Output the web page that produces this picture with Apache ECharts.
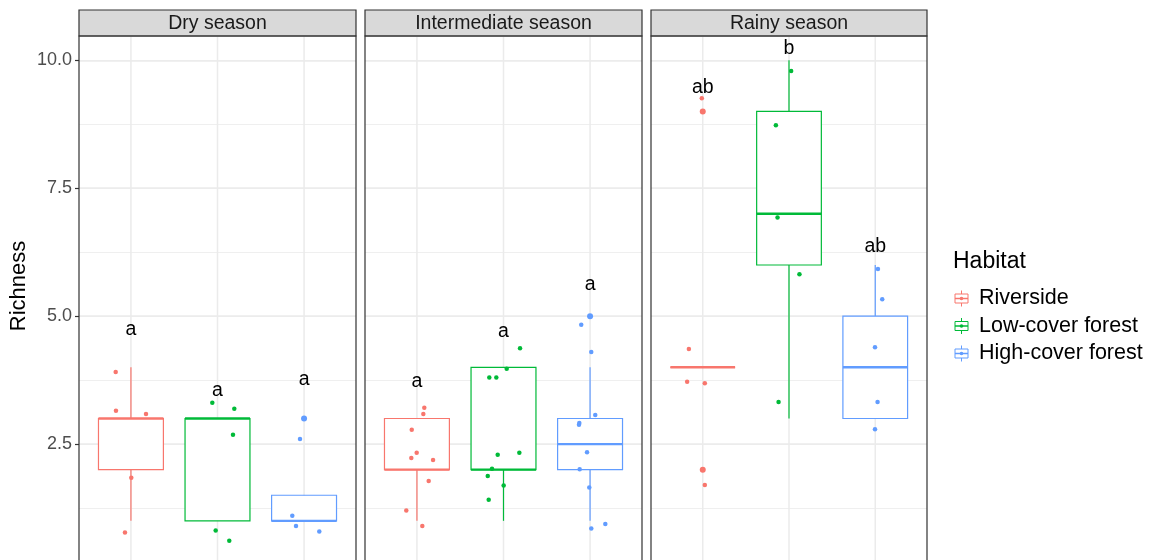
<!DOCTYPE html>
<html><head><meta charset="utf-8">
<script src="https://cdn.jsdelivr.net/npm/echarts@6/dist/echarts.min.js"></script>
<style>html,body{margin:0;padding:0;background:#fff}#c{width:1151px;height:560px}</style>
</head><body><div id="c"></div>
<script>
// ---------- DATA ----------
const seasons = ['Dry season', 'Intermediate season', 'Rainy season'];
const habitats = ['Riverside', 'Low-cover forest', 'High-cover forest'];
const yTicks = [2.5, 5, 7.5, 10];

// box statistics per habitat: [lower whisker, Q1, median, Q3, upper whisker]
const dryBoxes   = [[1, 2, 3, 3, 4], [1, 1, 3, 3, 3], [1, 1, 1, 1.5, 1]];
const interBoxes = [[1, 2, 2, 3, 3], [1, 2, 2, 4, 4], [1, 2, 2.5, 3, 4]];
const rainyBoxes = [[4, 4, 4, 4, 4], [3, 6, 7, 9, 10], [3, 3, 4, 5, 6]];

// boxplot outliers per habitat
const dryOutliers   = [[], [], [3]];
const interOutliers = [[], [], [5]];
const rainyOutliers = [[9, 2], [], []];

// jittered observations per habitat: [horizontal jitter, richness]
const dryPoints = [
  [[-0.176, 3.91], [-0.173, 3.15], [0.174, 3.09], [0.004, 1.84], [-0.069, 0.77]],
  [[-0.060, 3.31], [0.194, 3.19], [0.179, 2.68], [-0.021, 0.81], [0.136, 0.61]],
  [[-0.047, 2.60], [-0.136, 1.10], [-0.093, 0.90], [0.176, 0.79]]
];
const interPoints = [
  [[0.085, 3.21], [0.074, 3.09], [-0.060, 2.78], [-0.003, 2.33], [-0.065, 2.23], [0.186, 2.19], [0.136, 1.78], [-0.123, 1.20], [0.062, 0.90]],
  [[0.191, 4.375], [0.037, 3.97], [-0.164, 3.80], [-0.083, 3.80], [-0.067, 2.29], [0.183, 2.33], [-0.133, 2.02], [-0.182, 1.875], [0.002, 1.69], [-0.171, 1.41]],
  [[-0.102, 4.83], [0.014, 4.30], [0.060, 3.07], [-0.124, 2.91], [-0.128, 2.88], [-0.035, 2.34], [-0.120, 2.01], [-0.009, 1.65], [0.014, 0.85], [0.176, 0.94]]
];
const rainyPoints = [
  [[-0.011, 9.26], [-0.161, 4.36], [-0.181, 3.72], [0.024, 3.69], [0.024, 1.70]],
  [[0.025, 9.79], [-0.152, 8.73], [-0.133, 6.93], [0.121, 5.82], [-0.121, 3.32]],
  [[0.031, 5.92], [0.081, 5.33], [-0.003, 4.39], [0.027, 3.32], [-0.003, 2.79]]
];

// significance letters and their heights
const dryLetters = ['a', 'a', 'a'];
const dryLetterY = [4.73, 3.54, 3.75];
const interLetters = ['a', 'a', 'a'];
const interLetterY = [3.73, 4.69, 5.61];
const rainyLetters = ['ab', 'b', 'ab'];
const rainyLetterY = [9.47, 10.23, 6.35];

// ---------- STYLE / LAYOUT ----------
const FONT = '"Liberation Sans", Arial, Helvetica, sans-serif';
const COLORS = ['#F8766D', '#00BA38', '#619CFF'];
const panels = [{left: 79, width: 277}, {left: 365, width: 277}, {left: 651, width: 276}];
const TOP = 36, HEIGHT = 536, YMIN = 0, YMAX = 10.475;
const BOX_HALF = 0.375;

const seasonData = [
  {boxes: dryBoxes, outliers: dryOutliers, points: dryPoints, letters: dryLetters, letterY: dryLetterY},
  {boxes: interBoxes, outliers: interOutliers, points: interPoints, letters: interLetters, letterY: interLetterY},
  {boxes: rainyBoxes, outliers: rainyOutliers, points: rainyPoints, letters: rainyLetters, letterY: rainyLetterY}
];

const grid = panels.map(p => ({left: p.left, top: TOP, width: p.width, height: HEIGHT, show: false, containLabel: false, outerBoundsMode: 'none'}));
const xAxis = panels.map((p, i) => ({type: 'value', gridIndex: i, min: 0.4, max: 3.6, show: false}));
const yAxis = [];
panels.forEach((p, i) => {
  yAxis.push({
    type: 'value', gridIndex: i, min: YMIN, max: YMAX, interval: 2.5,
    axisLine: {show: false},
    axisTick: i === 0 ? {show: true, customValues: yTicks, length: 4, lineStyle: {color: '#333333', width: 1.2}} : {show: false},
    axisLabel: i === 0 ? {show: true, customValues: yTicks, formatter: v => Number(v).toFixed(1), color: '#4D4D4D', fontSize: 18, fontFamily: FONT, margin: 7} : {show: false},
    splitLine: {show: true, lineStyle: {color: '#EBEBEB', width: 1.5}}
  });
  yAxis.push({
    type: 'value', gridIndex: i, min: YMIN, max: YMAX, interval: 1.25, position: 'left',
    axisLine: {show: false}, axisTick: {show: false}, axisLabel: {show: false},
    splitLine: {show: true, lineStyle: {color: '#EBEBEB', width: 0.8}}
  });
});

const series = [];
seasonData.forEach((sd, i) => {
  const yi = 2 * i;
  // vertical grid lines at category centres
  series.push({
    type: 'custom', xAxisIndex: i, yAxisIndex: yi, z: 1, silent: true,
    data: habitats.map((h, k) => [k + 1]),
    encode: {x: 0},
    renderItem: (params, api) => {
      const x = api.value(0);
      const a = api.coord([x, YMIN]), b = api.coord([x, YMAX]);
      return {type: 'line', shape: {x1: a[0], y1: a[1], x2: b[0], y2: b[1]}, style: {stroke: '#EBEBEB', lineWidth: 1.5}};
    }
  });
  // boxes
  series.push({
    type: 'custom', xAxisIndex: i, yAxisIndex: yi, z: 2, silent: true,
    data: sd.boxes.map((b, k) => [k + 1, b[0], b[1], b[2], b[3], b[4], k]),
    encode: {x: 0, y: [1, 2, 3, 4, 5]},
    renderItem: (params, api) => {
      const x = api.value(0), lo = api.value(1), q1 = api.value(2), med = api.value(3), q3 = api.value(4), hi = api.value(5);
      const col = COLORS[api.value(6)];
      const tl = api.coord([x - BOX_HALF, q3]), br = api.coord([x + BOX_HALF, q1]);
      const cHi = api.coord([x, hi]), cQ3 = api.coord([x, q3]), cQ1 = api.coord([x, q1]), cLo = api.coord([x, lo]);
      const mL = api.coord([x - BOX_HALF, med]), mR = api.coord([x + BOX_HALF, med]);
      const ls = {stroke: col, lineWidth: 1.2};
      return {type: 'group', children: [
        {type: 'line', shape: {x1: cQ3[0], y1: cQ3[1], x2: cHi[0], y2: cHi[1]}, style: ls},
        {type: 'line', shape: {x1: cQ1[0], y1: cQ1[1], x2: cLo[0], y2: cLo[1]}, style: ls},
        {type: 'rect', shape: {x: tl[0], y: tl[1], width: br[0] - tl[0], height: br[1] - tl[1]}, style: {fill: '#FFFFFF', stroke: col, lineWidth: 1.2}},
        {type: 'line', shape: {x1: mL[0], y1: mL[1], x2: mR[0], y2: mR[1]}, style: {stroke: col, lineWidth: 2.4}}
      ]};
    }
  });
  // outliers
  sd.outliers.forEach((arr, k) => {
    if (!arr.length) return;
    series.push({
      type: 'scatter', xAxisIndex: i, yAxisIndex: yi, z: 3, silent: true,
      symbolSize: 6, itemStyle: {color: COLORS[k], opacity: 1},
      data: arr.map(v => [k + 1, v])
    });
  });
  // jittered points
  sd.points.forEach((arr, k) => {
    series.push({
      type: 'scatter', xAxisIndex: i, yAxisIndex: yi, z: 4, silent: true,
      symbolSize: 4.5, itemStyle: {color: COLORS[k], opacity: 1},
      data: arr.map(([dx, v]) => [k + 1 + dx, v])
    });
  });
  // letters
  series.push({
    type: 'custom', xAxisIndex: i, yAxisIndex: yi, z: 5, silent: true,
    data: sd.letterY.map((v, k) => [k + 1, v]),
    encode: {x: 0, y: 1},
    renderItem: (params, api) => {
      const p = api.coord([api.value(0), api.value(1)]);
      return {type: 'text', x: p[0], y: p[1], style: {text: sd.letters[params.dataIndex], textAlign: 'center', textVerticalAlign: 'middle', font: '19.5px ' + FONT, fill: '#000000'}};
    }
  });
});

// strips, panel borders, axis title, legend
const graphic = [];
panels.forEach((p, i) => {
  graphic.push({type: 'rect', z: 100, shape: {x: p.left, y: 10, width: p.width, height: 26}, style: {fill: '#D9D9D9', stroke: '#333333', lineWidth: 1.2}});
  graphic.push({type: 'text', z: 101, x: p.left + p.width / 2, y: 23.5, style: {text: seasons[i], textAlign: 'center', textVerticalAlign: 'middle', font: '19.5px ' + FONT, fill: '#1A1A1A'}});
  graphic.push({type: 'rect', z: 100, shape: {x: p.left, y: TOP, width: p.width, height: 560}, style: {fill: 'none', stroke: '#333333', lineWidth: 1.2}});
});
graphic.push({type: 'text', z: 101, x: 19, y: 286, rotation: Math.PI / 2, style: {text: 'Richness', textAlign: 'center', textVerticalAlign: 'middle', font: '22px ' + FONT, fill: '#000000'}});
graphic.push({type: 'text', z: 101, x: 953, y: 262, style: {text: 'Habitat', textAlign: 'left', textVerticalAlign: 'middle', font: '23px ' + FONT, fill: '#000000'}});
habitats.forEach((h, k) => {
  const cy = 298.5 + k * 27.5, cx = 961.5, col = COLORS[k];
  graphic.push({type: 'line', z: 101, shape: {x1: cx, y1: cy - 8, x2: cx, y2: cy + 8}, style: {stroke: col, lineWidth: 1}});
  graphic.push({type: 'rect', z: 102, shape: {x: 955, y: cy - 4.5, width: 13, height: 9}, style: {fill: '#FFFFFF', stroke: col, lineWidth: 1}});
  graphic.push({type: 'line', z: 103, shape: {x1: 955, y1: cy, x2: 968, y2: cy}, style: {stroke: col, lineWidth: 1.5}});
  graphic.push({type: 'circle', z: 104, shape: {cx: cx, cy: cy, r: 1.8}, style: {fill: col}});
  graphic.push({type: 'text', z: 101, x: 979, y: cy, style: {text: h, textAlign: 'left', textVerticalAlign: 'middle', font: '21.5px ' + FONT, fill: '#000000'}});
});

const chart = echarts.init(document.getElementById('c'), null, {renderer: 'canvas'});
chart.setOption({
  animation: false,
  backgroundColor: '#FFFFFF',
  grid, xAxis, yAxis, series, graphic
});
</script>
</body></html>
